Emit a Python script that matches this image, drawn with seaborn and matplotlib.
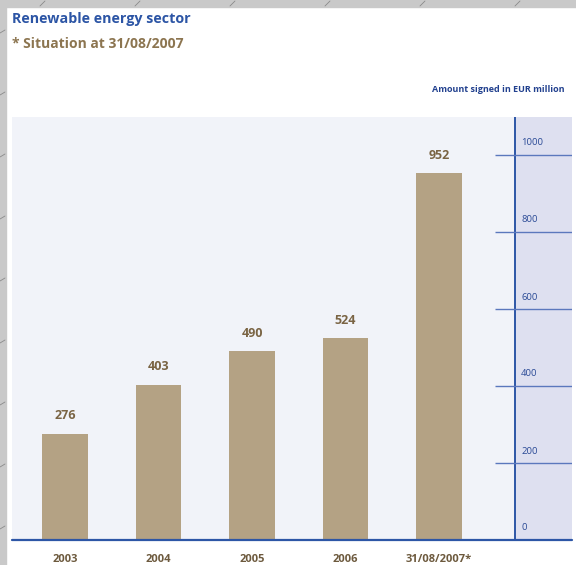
import matplotlib
matplotlib.use("Agg")
import matplotlib.pyplot as plt
import seaborn as sns
import pandas as pd
from matplotlib.lines import Line2D
from matplotlib.patches import Rectangle

categories = ["2003", "2004", "2005", "2006", "31/08/2007*"]
values = [276, 403, 490, 524, 952]
yticks = [0, 200, 400, 600, 800, 1000]

sns.set_theme(style="white")
plt.rcParams['font.family'] = ['Open Sans', 'DejaVu Sans']

W, H = 576, 565
fig = plt.figure(figsize=(W / 100, H / 100), dpi=100, facecolor="white")

# scan-like gray border strips
fig.add_artist(Rectangle((0, 0), 6 / W, 1, transform=fig.transFigure, color="#c9c9c9", zorder=0))
fig.add_artist(Rectangle((0, 1 - 7 / H), 1, 7 / H, transform=fig.transFigure, color="#c9c9c9", zorder=0))
for yy in range(30, 565, 62):
    fig.add_artist(Line2D([0, 5 / W], [1 - (yy + 3) / H, 1 - yy / H], transform=fig.transFigure,
                          color="#8a8a8a", lw=0.6))
for xx in range(40, 576, 95):
    fig.add_artist(Line2D([xx / W, (xx + 5) / W], [1 - 6 / H, 1 - 1 / H], transform=fig.transFigure,
                          color="#8a8a8a", lw=0.6))

left_px, right_px, top_px, base_px = 12, 572, 117, 540
ax = fig.add_axes([left_px / W, (H - base_px) / H, (right_px - left_px) / W, (base_px - top_px) / H])
ax.set_facecolor("#f1f3f9")

df = pd.DataFrame({"cat": categories, "val": values})
sns.barplot(data=df, x="cat", y="val", order=categories, color="#b4a284",
            saturation=1, width=0.49, ax=ax, zorder=3, linewidth=0, edgecolor="none")

spacing = 93.5
x0 = 65
def px2x(p):
    return (p - x0) / spacing

ax.set_xlim(px2x(left_px), px2x(right_px))
ppu = 0.385
ax.set_ylim(0, (base_px - top_px) / ppu)

axis_x = px2x(515)
ax.axvspan(axis_x, px2x(right_px), color="#dee0f0", zorder=1, lw=0)
ax.axvline(axis_x, color="#2d56a6", lw=1.4, zorder=4)
ax.hlines(yticks[1:], px2x(495), px2x(right_px), color="#5b78bd", lw=1.0, zorder=4)
ax.axhline(0, color="#2d56a6", lw=1.6, zorder=5, clip_on=False)

for t in yticks:
    ax.text(px2x(521), t + 12 / ppu if t > 0 else 13 / ppu, str(t), ha="left", va="center",
            fontsize=6.8, color="#2a4a96", zorder=6)

for i, v in enumerate(values):
    ax.text(i, v + 18 / ppu, str(v), ha="center", va="center", fontsize=9,
            fontweight="bold", color="#7a6444", zorder=6)

ax.set_yticks([])
ax.set_xticks(range(len(categories)))
ax.set_xticklabels(categories, fontsize=8, fontweight="bold", color="#6d5a3e")
ax.tick_params(axis="x", length=0, pad=10)
ax.set_xlabel("")
ax.set_ylabel("")
for s in ax.spines.values():
    s.set_visible(False)

fig.text(12 / W, 1 - 19 / H, "Renewable energy sector", fontsize=10.3, fontweight="bold",
         color="#2c55a5", ha="left", va="center")
fig.text(12 / W, 1 - 44 / H, "* Situation at 31/08/2007", fontsize=10, fontweight="bold",
         color="#8c7550", ha="left", va="center")
fig.text(565 / W, 1 - 90 / H, "Amount signed in EUR million", fontsize=6.5, fontweight="bold",
         color="#22418f", ha="right", va="center")

fig.savefig("out.png", dpi=100, facecolor="white")
